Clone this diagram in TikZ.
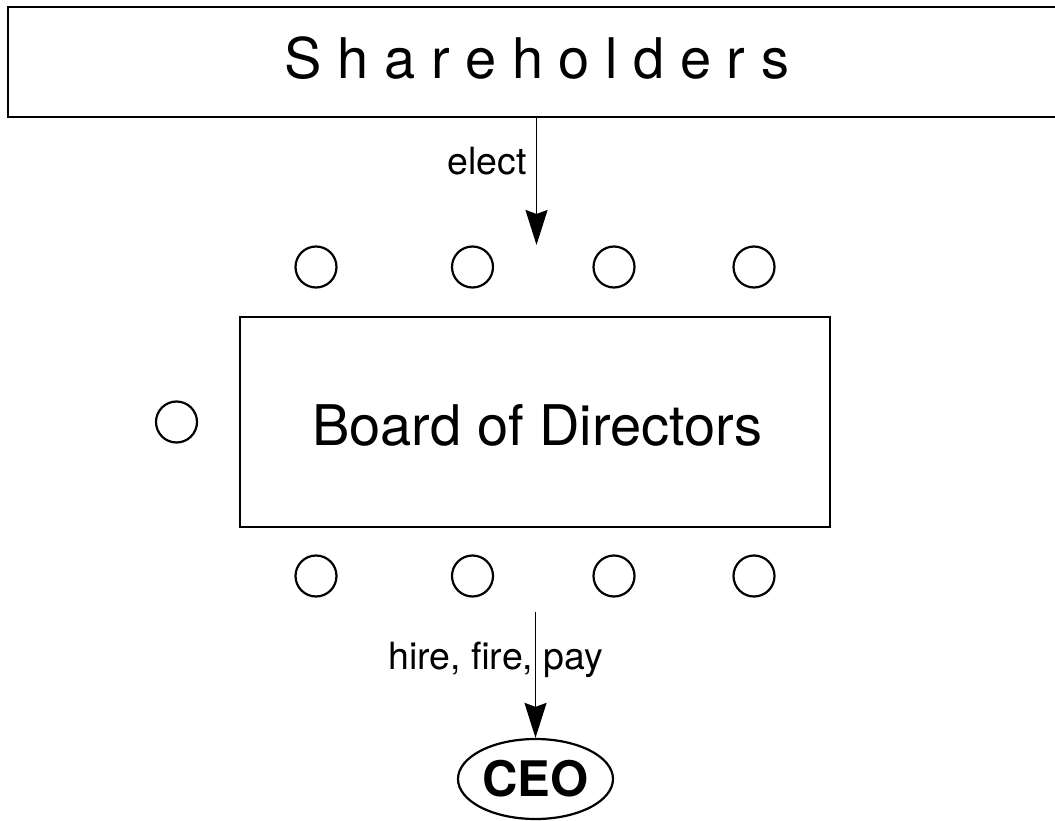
\documentclass[tikz,border=0pt]{standalone}
\usepackage{fontspec}
\setmainfont{TeX Gyre Heros}
\usetikzlibrary{arrows.meta,shapes.geometric}

\tikzset{
  panel/.style={draw, line width=2.4pt, rectangle, inner sep=0pt},
  seat/.style={draw, line width=2.2pt, circle, minimum size=41pt, inner sep=0pt},
  bigtext/.style={font=\fontsize{56}{60}\selectfont, inner sep=0pt, anchor=base},
  edgetext/.style={font=\fontsize{37.5}{42}\selectfont, inner sep=0pt},
  officer/.style={draw, line width=2.2pt, ellipse, minimum width=155pt, minimum height=80pt,
    inner sep=0pt, font=\fontsize{49}{54}\selectfont\bfseries},
  flow/.style={line width=1.9pt, -{Stealth[length=35pt, width=22pt, inset=4pt]}}
}

\begin{document}
\begin{tikzpicture}[x=1pt, y=-1pt]
  \clip (0,0) rectangle (1055,821);
  \fill[white] (0,0) rectangle (1055,821);

  % shareholders banner, running off the right edge
  \node[panel, minimum width=1057pt, minimum height=110pt] (share) at (536.5,62) {};
  \node[bigtext] (sharetext) at (537,79) {S h a r e h o l d e r s};

  % board of directors
  \node[panel, minimum width=590pt, minimum height=210pt] (board) at (535,422) {};
  \node[bigtext] (boardtext) at (537.5,445) {Board of Directors};

  % directors' seats
  \node[seat] (t1) at (316,267) {};
  \node[seat] (t2) at (472.5,267) {};
  \node[seat] (t3) at (614,267) {};
  \node[seat] (t4) at (754,267) {};
  \node[seat] (b1) at (316,576) {};
  \node[seat] (b2) at (472.5,576) {};
  \node[seat] (b3) at (614,576) {};
  \node[seat] (b4) at (754,576) {};
  \node[seat] (l1) at (176.5,422) {};

  % chief executive
  \node[officer] (ceo) at (535.5,779) {CEO};

  % relations
  \coordinate (electtip) at (536.5,245);
  \draw[flow] (share.south) -- (electtip);
  \node[edgetext, anchor=base east] (elect) at (527,175) {elect};

  \coordinate (hirestart) at (535.5,612);
  \draw[flow] (hirestart) -- (ceo.north);
  \node[edgetext, anchor=base west] (hire) at (388,669) {hire, fire, pay};
\end{tikzpicture}
\end{document}
